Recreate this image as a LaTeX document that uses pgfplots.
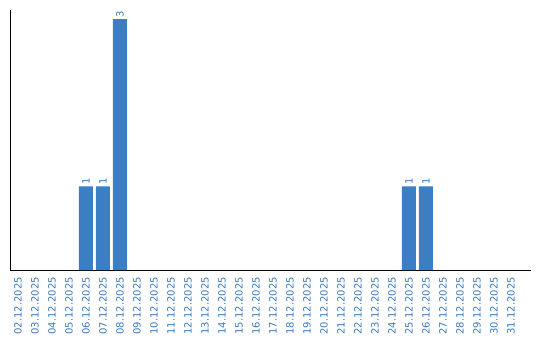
\documentclass[border=0pt]{standalone}
\usepackage{pgfplots}
\pgfplotsset{compat=1.18}
\usepackage{fontspec}
\setmainfont{DejaVu Sans}
\definecolor{barblue}{HTML}{3C7EC3}
\definecolor{lblblue}{HTML}{3A78BE}
\begin{document}
\begin{tikzpicture}
\useasboundingbox (0,0) rectangle (540pt,340pt);
\begin{axis}[
  at={(10pt,70pt)}, anchor=south west,
  scale only axis, width=521pt, height=260pt,
  xmin=-0.47, xmax=30.18, ymin=0, ymax=3.11,
  axis x line*=bottom, axis y line*=left,
  axis line style={black, line width=1pt},
  ytick=\empty,
  xtick={0,...,29},
  xticklabels={02.12.2025,03.12.2025,04.12.2025,05.12.2025,06.12.2025,07.12.2025,08.12.2025,09.12.2025,10.12.2025,11.12.2025,12.12.2025,13.12.2025,14.12.2025,15.12.2025,16.12.2025,17.12.2025,18.12.2025,19.12.2025,20.12.2025,21.12.2025,22.12.2025,23.12.2025,24.12.2025,25.12.2025,26.12.2025,27.12.2025,28.12.2025,29.12.2025,30.12.2025,31.12.2025},
  major tick length=0pt,
  xticklabel shift=7pt,
  x tick label style={rotate=90, anchor=east, font=\fontsize{10}{10}\selectfont, text=lblblue, inner sep=0pt},
  /pgf/number format/assume math mode=true,
  clip=false,
]
\addplot[ybar, bar width=14pt, fill=barblue, draw=none,
  nodes near coords,
  every node near coord/.append style={rotate=90, anchor=west, font=\fontsize{10}{10}\selectfont, text=lblblue, inner sep=1.5pt}]
  coordinates {(4,1) (5,1) (6,3) (23,1) (24,1)};
\end{axis}
\end{tikzpicture}
\end{document}
